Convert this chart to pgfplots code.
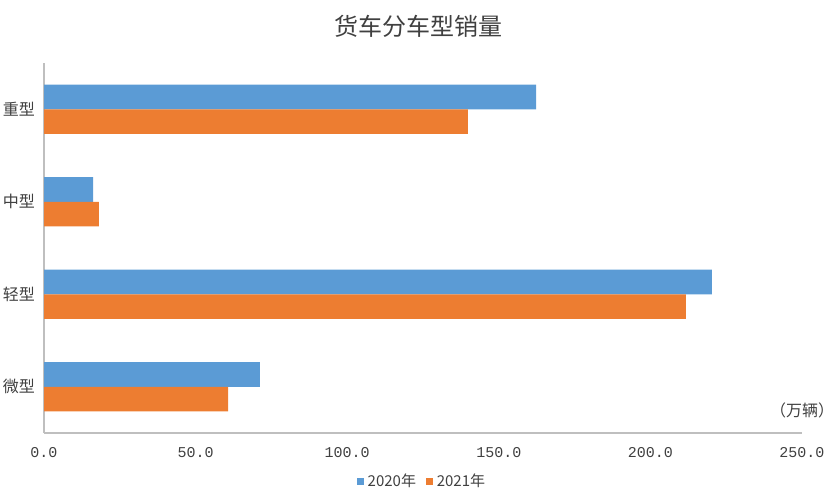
\documentclass[border=0pt]{standalone}
\usepackage{fontspec}
\usepackage{pgfplots}
\pgfplotsset{compat=1.18}
\setmainfont{Noto Sans CJK SC}
\newfontfamily\monofont{Liberation Mono}
\definecolor{cblue}{HTML}{5B9BD5}
\definecolor{corange}{HTML}{ED7D31}
\definecolor{axgray}{HTML}{BFBFBF}
\definecolor{txt}{HTML}{404040}
\begin{document}
\begin{tikzpicture}
\path[use as bounding box] (0,0) rectangle (418pt,251.5pt);
\begin{axis}[
  at={(22pt,35pt)}, anchor=south west,
  scale only axis, width=379pt, height=185pt,
  clip=false,
  xbar, bar width=0.265,
  xmin=0, xmax=250, ymin=-0.5, ymax=3.5,
  y dir=reverse,
  xtick={0,50,100,150,200,250},
  xticklabels={0.0,50.0,100.0,150.0,200.0,250.0},
  xticklabel style={font=\monofont\fontsize{7.5}{8}\selectfont, text=txt, yshift=-3.5pt},
  ytick={0,1,2,3},
  yticklabels={重型,中型,轻型,微型},
  yticklabel style={font=\fontsize{8}{9}\selectfont, text=txt, xshift=-1pt},
  major tick length=0pt,
  axis lines=left,
  axis line style={axgray, line width=0.6pt, -},
  legend style={draw=none, fill=none, at={(0.5,-0.132)}, anchor=center,
    legend columns=2, font=\fontsize{7.5}{8}\selectfont, text=txt,
    /tikz/every even column/.append style={column sep=3pt}},
  legend image code/.code={\fill[#1] (0pt,-1.7pt) rectangle (3.4pt,1.7pt);},
  legend cell align=left,
]
\addplot[draw=none, fill=cblue, bar shift=-0.1325] coordinates {(162.3,0) (16.2,1) (220.3,2) (71.2,3)};
\addlegendentry{2020年}
\addplot[draw=none, fill=corange, bar shift=0.1325] coordinates {(139.8,0) (18.1,1) (211.7,2) (60.7,3)};
\addlegendentry{2021年}
\node[font=\fontsize{8}{9}\selectfont, text=txt] at (rel axis cs:1.0,0.062) {（万辆）};
\end{axis}
\node[font=\fontsize{12}{13}\selectfont, text=txt] at (209pt,238.5pt) {货车分车型销量};
\end{tikzpicture}
\end{document}
